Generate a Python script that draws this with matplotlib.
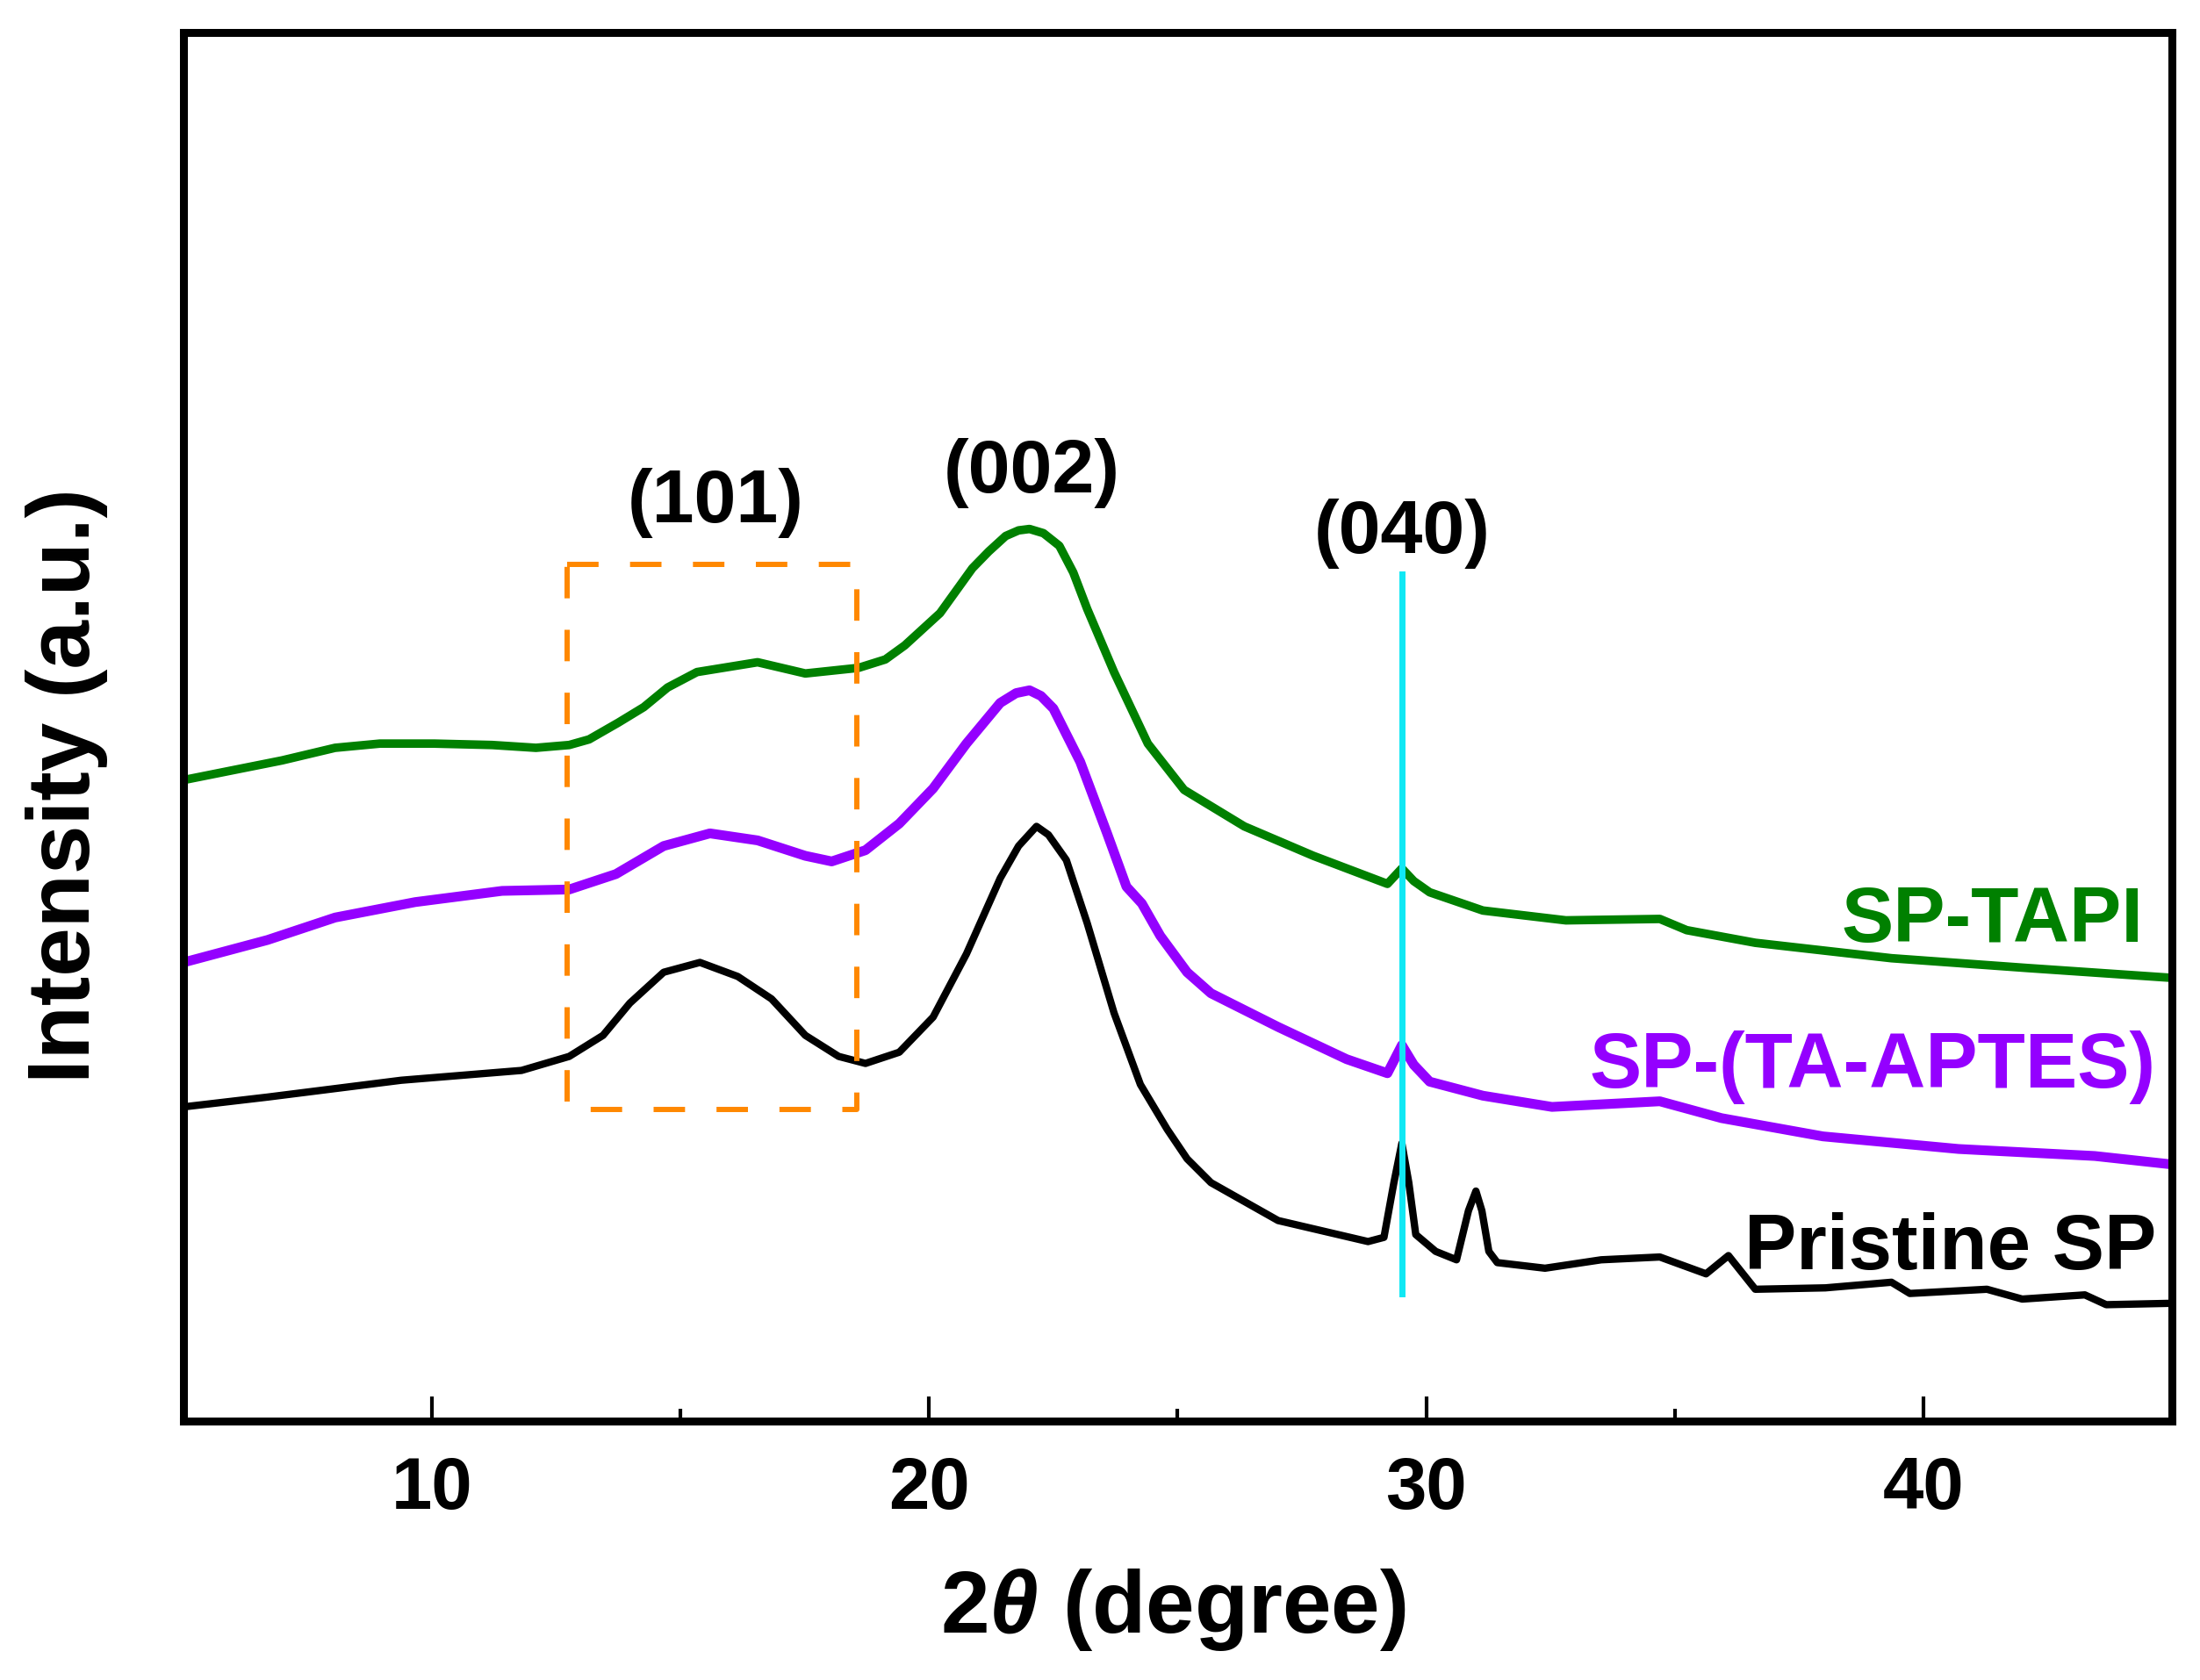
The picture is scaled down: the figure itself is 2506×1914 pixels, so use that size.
import matplotlib
matplotlib.use("Agg")
import matplotlib.pyplot as plt

plt.rcParams["font.family"] = ["Liberation Sans", "DejaVu Sans"]
plt.rcParams["font.weight"] = "bold"
plt.rcParams["mathtext.fontset"] = "custom"
plt.rcParams["mathtext.it"] = "Liberation Sans:bold:italic"
plt.rcParams["mathtext.rm"] = "Liberation Sans:bold"
plt.rcParams["mathtext.bf"] = "Liberation Sans:bold"

# 2theta (degree) and offset intensity (arbitrary units)
tapi_x = [5.00, 6.13, 6.98, 8.05, 8.95, 10.05, 11.21, 12.09, 12.76, 13.16,
          13.75, 14.26, 14.74, 15.33, 16.55, 17.51, 18.58, 19.12, 19.51, 20.22,
          20.87, 21.20, 21.54, 21.80, 22.02, 22.30, 22.62, 22.90, 23.18, 23.72,
          24.40, 25.13, 26.34, 27.73, 29.22, 29.51, 29.75, 30.07, 31.14, 32.81,
          34.70, 35.24, 36.62, 39.36, 42.10, 45.00]
tapi_y = [457, 465, 471, 480, 483, 483, 482, 480, 482, 486,
          498, 509, 523, 534, 541, 533, 537, 543, 553, 576,
          608, 620, 631, 635, 636, 633, 624, 605, 579, 534,
          483, 450, 424, 403, 383, 394, 385, 377, 364, 357,
          358, 350, 341, 330, 323, 316]

aptes_x = [5.00, 6.69, 8.05, 9.66, 11.41, 12.76, 13.70, 14.66, 15.59, 16.55,
           17.51, 18.04, 18.72, 19.40, 20.08, 20.75, 21.43, 21.75, 22.02, 22.25,
           22.50, 23.04, 23.58, 23.97, 24.28, 24.65, 25.19, 25.67, 27.02, 28.40,
           29.22, 29.51, 29.75, 30.07, 31.14, 32.53, 34.70, 35.94, 37.98, 40.71,
           43.45, 45.00]
aptes_y = [327, 343, 359, 370, 378, 379, 390, 410, 419, 414,
           403, 399, 407, 426, 451, 483, 512, 519, 521, 517,
           508, 470, 419, 381, 369, 346, 320, 305, 281, 258,
           248, 268, 254, 242, 232, 224, 228, 216, 203, 194,
           189, 183]

sp_x = [5.00, 6.69, 9.38, 11.80, 12.76, 13.44, 13.98, 14.66, 15.39, 16.15,
        16.83, 17.51, 18.18, 18.72, 19.40, 20.08, 20.75, 21.43, 21.80, 22.16,
        22.40, 22.76, 23.18, 23.72, 24.25, 24.79, 25.19, 25.67, 27.02, 28.83,
        29.15, 29.35, 29.51, 29.65, 29.79, 30.19, 30.61, 30.85, 31.00, 31.12,
        31.26, 31.43, 32.39, 33.52, 34.70, 35.63, 36.08, 36.62, 38.03, 39.36,
        39.73, 41.28, 41.99, 43.25, 43.68, 45.00]
sp_y = [224, 231, 243, 250, 260, 275, 298, 320, 327, 317,
        301, 275, 260, 255, 263, 288, 333, 387, 410, 424,
        418, 400, 355, 291, 240, 208, 187, 170, 143, 128,
        131, 170, 198, 170, 133, 121, 115, 150, 164, 150,
        121, 113, 109, 115, 117, 105, 118, 94, 95, 99,
        91, 94, 87, 90, 83, 84]

series = [
    (sp_x, sp_y, "black", 6.0),
    (aptes_x, aptes_y, "#9400ff", 8.0),
    (tapi_x, tapi_y, "#008000", 7.0),
]

series_labels = ["SP-TAPI", "SP-(TA-APTES)", "Pristine SP"]
label_colors = ["#008000", "#9400ff", "black"]
label_x = [44.42, 44.68, 44.68]
label_y = [342, 238, 108]

peak_labels = ["(101)", "(002)", "(040)"]
peak_x = [15.71, 22.07, 29.52]
peak_y = [641, 662, 619]

box_x = [12.72, 18.55]
box_y = [222, 611]
line_040_x = 29.52
line_040_y = [91, 604]

fig = plt.figure(figsize=(25.06, 19.14), dpi=100)
ax = fig.add_axes([0.0834, 0.1541, 0.9038, 0.8266])

for xs, ys, color, lw in series:
    ax.plot(xs, ys, color=color, linewidth=lw, solid_joinstyle="round")

ax.plot([box_x[0], box_x[1], box_x[1], box_x[0], box_x[0]],
        [box_y[1], box_y[1], box_y[0], box_y[0], box_y[1]],
        color="#ff8800", linewidth=4.3, linestyle=(0, (6, 6)))
ax.plot([line_040_x, line_040_x], line_040_y, color="#10e8f4", linewidth=5)

for text, x, y in zip(peak_labels, peak_x, peak_y):
    ax.text(x, y, text, ha="center", va="baseline", fontsize=62, fontweight="bold")

for text, color, x, y in zip(series_labels, label_colors, label_x, label_y):
    ax.text(x, y, text, ha="right", va="baseline", fontsize=64,
            fontweight="bold", color=color)

ax.set_xlim(5, 45)
ax.set_ylim(0, 990)
ax.set_xticks([10, 20, 30, 40])
ax.set_xticks([15, 25, 35], minor=True)
ax.set_yticks([])
ax.tick_params(axis="x", which="major", direction="in", length=20, width=3,
               labelsize=60, pad=28)
ax.tick_params(axis="x", which="minor", direction="in", length=10, width=3)
for lab in ax.get_xticklabels():
    lab.set_fontweight("bold")
for spine in ax.spines.values():
    spine.set_linewidth(6.5)

ax.set_xlabel(r"2$\theta$ (degree)", fontsize=72, fontweight="bold", va="baseline")
ax.xaxis.set_label_coords(0.4976, -0.1523)
ax.set_ylabel("Intensity (a.u.)", fontsize=72, fontweight="bold", va="baseline")
ax.yaxis.set_label_coords(-0.0472, 0.4577)

fig.savefig("out.png", dpi=100)
